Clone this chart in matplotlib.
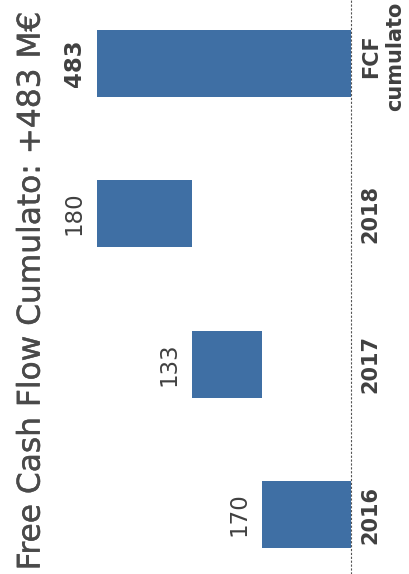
import numpy as np
import matplotlib.pyplot as plt
import matplotlib.patheffects as pe

# dati del grafico (waterfall, ruotato di 90 gradi)
categories = ['2016', '2017', '2018', 'FCF\ncumulato']
values = [170, 133, 180, 483]
is_total = [False, False, False, True]
title = 'Free Cash Flow Cumulato: +483 M€'

bar_color = '#3f6fa4'
text_color = '#404040'

# base di ogni barra: cumulata per gli anni, zero per il totale
starts = []
running = 0
for v, tot in zip(values, is_total):
    if tot:
        starts.append(0)
    else:
        starts.append(running)
        running += v

fig = plt.figure(figsize=(4.10, 5.74), dpi=100)
ax = fig.add_axes([0, 0, 1, 1])

pos = np.arange(len(categories))
ax.barh(pos, values, left=starts, height=0.445, color=bar_color)

# etichette dei valori, a sinistra della fine della barra
for i, (v, s, tot) in enumerate(zip(values, starts, is_total)):
    ax.annotate(str(v), xy=(s + v, i), xytext=(-8, 0), textcoords='offset points',
                rotation=90, ha='right', va='center', fontsize=16.5,
                fontweight='bold' if tot else 'normal', color=text_color)

# etichette delle categorie, a destra della linea di base
for i, (c, tot) in enumerate(zip(categories, is_total)):
    ax.annotate(c, xy=(0, i), xytext=(7, 5 if tot else 0), textcoords='offset points',
                rotation=90, ha='left', va='center', fontsize=15,
                fontweight='bold', color=text_color, multialignment='center',
                linespacing=1.25)

# linea di base tratteggiata
ax.axvline(0, color='#555555', linestyle=(0, (2, 1.5)), linewidth=0.8)

ax.set_xlim(667.4, -112.2)
ax.set_ylim(-0.395, 3.419)
ax.axis('off')

fig.text(0.076, 0.493, title, rotation=90, ha='center', va='center',
         fontsize=22.5, color='#4a4a4a',
         path_effects=[pe.withStroke(linewidth=0.3, foreground='#4a4a4a')])

fig.savefig('out.png', dpi=100)
